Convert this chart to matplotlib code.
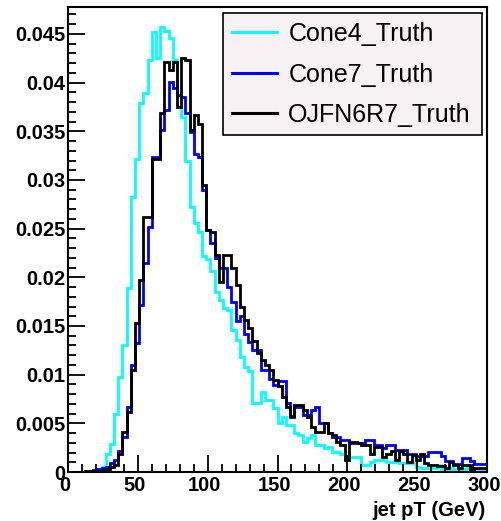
import numpy as np
import matplotlib
matplotlib.use("Agg")
import matplotlib.pyplot as plt
from matplotlib.lines import Line2D
from matplotlib.patches import Rectangle
from matplotlib.transforms import ScaledTranslation
from matplotlib.ticker import MultipleLocator, FixedLocator, FixedFormatter

# ---------------- data ----------------
x_min, x_max, n_bins = 0.0, 300.0, 100

cone4_truth = [
    0, 0, 0, 0, 0, 0.0001, 0.0002, 0.0003, 0.0005, 0.0019,
    0.0029, 0.0060, 0.0098, 0.0130, 0.0189, 0.0283, 0.0322, 0.0379, 0.0389, 0.0423,
    0.0452, 0.0425, 0.0457, 0.0453, 0.0446, 0.0423, 0.0375, 0.0365, 0.0320, 0.0272,
    0.0256, 0.0247, 0.0222, 0.0219, 0.0206, 0.0185, 0.0177, 0.0168, 0.0166, 0.0146,
    0.0136, 0.0118, 0.0108, 0.0104, 0.0071, 0.0071, 0.0082, 0.0074, 0.0074, 0.0066,
    0.0050, 0.0057, 0.0048, 0.0048, 0.0040, 0.0038, 0.0031, 0.0035, 0.0038, 0.0028,
    0.0028, 0.0025, 0.0026, 0.0021, 0.0021, 0.0019, 0.0014, 0.0015, 0.0015, 0.0015,
    0.0007, 0.0007, 0.0010, 0.0012, 0.0012, 0.0012, 0.0010, 0.0010, 0.0010, 0.0009,
    0.0009, 0.0009, 0.0009, 0.0005, 0.0004, 0.0004, 0.0004, 0.0004, 0.0007, 0.0003,
    0.0003, 0.0004, 0.0003, 0.0002, 0.0003, 0.0004, 0.0003, 0.0003, 0.0002, 0.0003,
]

cone7_truth = [
    0, 0, 0, 0, 0, 0.0001, 0.0002, 0.0003, 0.0004, 0.0005,
    0.0009, 0.0012, 0.0022, 0.0036, 0.0067, 0.0110, 0.0133, 0.0172, 0.0215, 0.0252,
    0.0324, 0.0324, 0.0351, 0.0372, 0.0401, 0.0395, 0.0387, 0.0385, 0.0369, 0.0349,
    0.0327, 0.0324, 0.0290, 0.0249, 0.0235, 0.0220, 0.0210, 0.0210, 0.0190, 0.0175,
    0.0155, 0.0160, 0.0142, 0.0134, 0.0125, 0.0125, 0.0105, 0.0105, 0.0096, 0.0089,
    0.0093, 0.0093, 0.0071, 0.0057, 0.0067, 0.0067, 0.0059, 0.0059, 0.0064, 0.0067,
    0.0050, 0.0050, 0.0040, 0.0036, 0.0036, 0.0033, 0.0033, 0.0030, 0.0030, 0.0030,
    0.0030, 0.0033, 0.0033, 0.0028, 0.0028, 0.0025, 0.0028, 0.0028, 0.0023, 0.0023,
    0.0023, 0.0019, 0.0019, 0.0016, 0.0016, 0.0016, 0.0021, 0.0021, 0.0021, 0.0016,
    0.0011, 0.0011, 0.0008, 0.0008, 0.0014, 0.0014, 0.0011, 0.0008, 0.0008, 0.0008,
]

ojfn6r7_truth = [
    0, 0, 0, 0, 0.0001, 0.0001, 0.0001, 0.0001, 0.0002, 0.0003,
    0.0005, 0.0007, 0.0019, 0.0041, 0.0062, 0.0105, 0.0153, 0.0197, 0.0262, 0.0262,
    0.0322, 0.0322, 0.0369, 0.0421, 0.0413, 0.0421, 0.0375, 0.0425, 0.0423, 0.0351,
    0.0367, 0.0358, 0.0295, 0.0249, 0.0247, 0.0223, 0.0195, 0.0223, 0.0223, 0.0210,
    0.0192, 0.0170, 0.0156, 0.0148, 0.0135, 0.0122, 0.0115, 0.0110, 0.0105, 0.0094,
    0.0088, 0.0077, 0.0067, 0.0058, 0.0069, 0.0069, 0.0064, 0.0057, 0.0046, 0.0041,
    0.0041, 0.0050, 0.0040, 0.0038, 0.0031, 0.0028, 0.0012, 0.0031, 0.0031, 0.0030,
    0.0028, 0.0028, 0.0019, 0.0026, 0.0026, 0.0015, 0.0019, 0.0022, 0.0012, 0.0022,
    0.0018, 0.0010, 0.0017, 0.0012, 0.0019, 0.0009, 0.0007, 0.0007, 0.0006, 0.0006,
    0.0004, 0.0010, 0.0007, 0.0004, 0.0007, 0.0007, 0.0002, 0.0004, 0.0004, 0.0004,
]

series_labels = ["Cone4_Truth", "Cone7_Truth", "OJFN6R7_Truth"]
series_colors = ["#00ffff", "#0000ff", "#000000"]

y_ticks = [0, 0.005, 0.01, 0.015, 0.02, 0.025, 0.03, 0.035, 0.04, 0.045]
y_tick_labels = ["0", "0.005", "0.01", "0.015", "0.02", "0.025", "0.03", "0.035", "0.04", "0.045"]
x_ticks = [0, 50, 100, 150, 200, 250, 300]
x_tick_labels = ["0", "50", "100", "150", "200", "250", "300"]
x_title = "jet pT (GeV)"

# ---------------- figure ----------------
plt.rcParams["font.family"] = ["Liberation Sans", "DejaVu Sans"]

W, H = 501, 521
fig = plt.figure(figsize=(W / 100, H / 100), dpi=100)
ax_l, ax_r, ax_t, ax_b = 68, 487, 7, 472
ax = fig.add_axes([ax_l / W, 1 - ax_b / H, (ax_r - ax_l) / W, (ax_b - ax_t) / H])

edges = np.linspace(x_min, x_max, n_bins + 1)
for vals, col in zip([cone4_truth, cone7_truth, ojfn6r7_truth], series_colors):
    ax.stairs(vals, edges, color=col, linewidth=2.0, baseline=0)

ax.set_xlim(x_min, x_max)
ax.set_ylim(0, 0.04777)

ax.xaxis.set_major_locator(FixedLocator(x_ticks))
ax.xaxis.set_major_formatter(FixedFormatter(x_tick_labels))
ax.xaxis.set_minor_locator(MultipleLocator(10))
ax.yaxis.set_major_locator(FixedLocator(y_ticks))
ax.yaxis.set_major_formatter(FixedFormatter(y_tick_labels))
ax.yaxis.set_minor_locator(MultipleLocator(0.001))

ax.tick_params(which="both", direction="in", top=False, right=False, width=1.3, color="black")
ax.tick_params(which="major", length=12)
ax.tick_params(which="minor", length=6)
ax.tick_params(axis="y", which="major", pad=2)
ax.tick_params(axis="x", which="major", pad=3)
shift = ScaledTranslation(-3 / 100, 0, fig.dpi_scale_trans)
for lab in ax.get_xticklabels():
    lab.set_transform(lab.get_transform() + shift)
for lab in ax.get_xticklabels() + ax.get_yticklabels():
    lab.set_fontweight("bold")
    lab.set_fontsize(14.5)

for s in ax.spines.values():
    s.set_linewidth(1.5)
    s.set_color("black")

ax.set_xlabel(x_title, fontweight="bold", fontsize=14.5)
ax.xaxis.label.set_horizontalalignment("right")
ax.xaxis.label.set_verticalalignment("center")
ax.xaxis.set_label_coords((485 - ax_l) / (ax_r - ax_l), -(511 - ax_b) / (ax_b - ax_t))

# legend box (pixel geometry of the reference)
box = Rectangle((223 / W, 1 - 135 / H), (482 - 223) / W, (135 - 13) / H,
                transform=fig.transFigure, facecolor="#f6f2f4", edgecolor="black",
                linewidth=1.2, zorder=4, clip_on=False)
ax.add_patch(box)

handles = [Line2D([], [], color=c, linewidth=2.2) for c in series_colors]
leg = ax.legend(handles, series_labels, loc="upper left",
                bbox_to_anchor=(0.37, 0.7247, 0.618, 0.2623), mode="expand",
                fontsize=18, frameon=False,
                handlelength=1.8, handletextpad=0.45, labelspacing=0.66,
                borderpad=0.36, borderaxespad=0)
leg.set_zorder(5)

fig.savefig("out.png", dpi=100)
